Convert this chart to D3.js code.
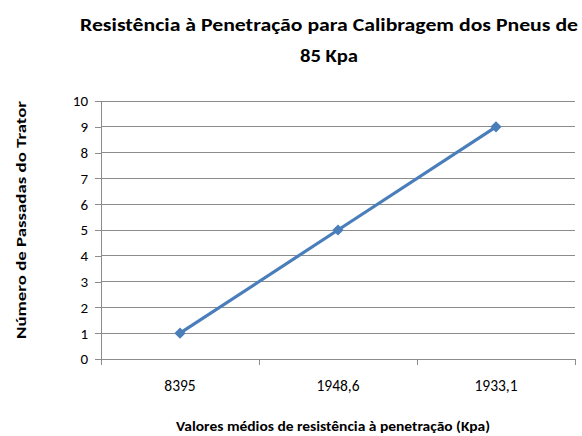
<!DOCTYPE html>
<html><head><meta charset="utf-8">
<script src="https://cdn.jsdelivr.net/npm/d3@7"></script>
<style>body{margin:0;background:#fff}svg{display:block}</style>
</head><body>
<script>
const categories = ["8395", "1948,6", "1933,1"];
const values = [1, 5, 9];
const yTicks = [0,1,2,3,4,5,6,7,8,9,10];
const titleLines = ["Resistência à Penetração para Calibragem dos Pneus de", "85 Kpa"];
const xTitle = "Valores médios de resistência à penetração (Kpa)";
const yTitle = "Número de Passadas do Trator";

const W = 582, H = 436;
const m = {left: 101, right: 575, top: 101, bottom: 359};
const font = "Carlito, Calibri, 'Open Sans', sans-serif";
const svg = d3.select("body").append("svg").attr("width", W).attr("height", H);

const x = d3.scaleBand().domain(categories).range([m.left, m.right]);
const y = d3.scaleLinear().domain([0, 10]).range([m.bottom, m.top]);

// gridlines
svg.append("g").selectAll("line").data(yTicks.filter(d => d > 0)).join("line")
  .attr("x1", m.left).attr("x2", m.right)
  .attr("y1", d => y(d)).attr("y2", d => y(d))
  .attr("stroke", "#8c8c8c").attr("stroke-width", 1).attr("shape-rendering", "crispEdges");

// y axis
const ya = svg.append("g").attr("transform", `translate(${m.left},0)`)
  .call(d3.axisLeft(y).tickValues(yTicks).tickSize(6).tickPadding(7).tickFormat(d3.format("d")));
ya.select(".domain").attr("stroke", "#8c8c8c").attr("shape-rendering", "crispEdges");
ya.selectAll(".tick line").attr("stroke", "#8c8c8c").attr("shape-rendering", "crispEdges");
ya.selectAll("text").attr("font-family", font).attr("font-size", 15).attr("fill", "#000");

// x axis
const xa = svg.append("g").attr("transform", `translate(0,${m.bottom})`)
  .call(d3.axisBottom(x).tickSize(0).tickPadding(21));
xa.select(".domain").attr("stroke", "#8c8c8c").attr("shape-rendering", "crispEdges");
xa.selectAll("text").attr("font-family", font).attr("font-size", 15.5).attr("fill", "#000");
const bounds = categories.map(c => x(c)).concat([x(categories[categories.length-1]) + x.bandwidth()]);
svg.append("g").selectAll("line").data(bounds).join("line")
  .attr("x1", d => d).attr("x2", d => d).attr("y1", m.bottom).attr("y2", m.bottom + 6)
  .attr("stroke", "#8c8c8c").attr("shape-rendering", "crispEdges");

// line
const cx = d => x(d) + x.bandwidth() / 2;
const pts = categories.map((c, i) => [cx(c), y(values[i])]);
svg.append("path").datum(pts).attr("d", d3.line())
  .attr("fill", "none").attr("stroke", "#4a7ebb").attr("stroke-width", 3.2).attr("stroke-linejoin", "round");
svg.append("g").selectAll("path").data(pts).join("path")
  .attr("transform", d => `translate(${d[0]},${d[1]})`)
  .attr("d", d3.symbol(d3.symbolDiamond2, 80)())
  .attr("fill", "#4a7ebb");

// titles
svg.append("text").attr("x", 329).attr("y", 31).attr("text-anchor", "middle")
  .attr("font-family", font).attr("font-weight", "bold").attr("font-size", 19)
  .attr("textLength", 498).attr("lengthAdjust", "spacingAndGlyphs").text(titleLines[0]);
svg.append("text").attr("x", 329).attr("y", 62).attr("text-anchor", "middle")
  .attr("font-family", font).attr("font-weight", "bold").attr("font-size", 19)
  .attr("textLength", 58).attr("lengthAdjust", "spacingAndGlyphs").text(titleLines[1]);
svg.append("text").attr("x", 333).attr("y", 431).attr("text-anchor", "middle")
  .attr("font-family", font).attr("font-weight", "bold").attr("font-size", 14)
  .attr("textLength", 314).attr("lengthAdjust", "spacingAndGlyphs").text(xTitle);
svg.append("text").attr("transform", "translate(26,220) rotate(-90)").attr("text-anchor", "middle")
  .attr("font-family", font).attr("font-weight", "bold").attr("font-size", 14)
  .attr("textLength", 238).attr("lengthAdjust", "spacingAndGlyphs").text(yTitle);
</script>
</body></html>
